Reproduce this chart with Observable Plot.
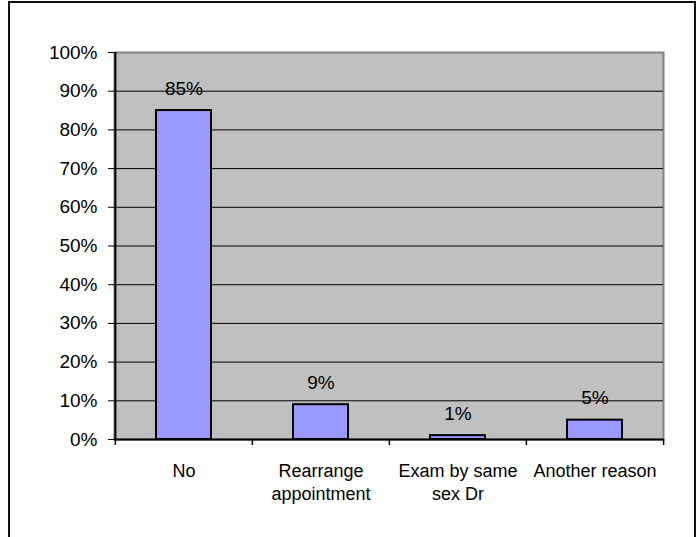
<!DOCTYPE html>
<html>
<head>
<meta charset="utf-8">
<script src="https://cdn.jsdelivr.net/npm/d3@7"></script>
<script src="https://cdn.jsdelivr.net/npm/@observablehq/plot@0.6"></script>
<style>
  html, body { margin: 0; padding: 0; background: #fff; }
  #wrap { position: relative; width: 699px; height: 537px; overflow: hidden; }
  #frame { position: absolute; left: 8px; top: 1px; width: 688px; height: 600px; border: 2px solid #111; box-sizing: border-box; pointer-events: none; }
</style>
</head>
<body>
<div id="wrap"><div id="frame"></div></div>
<script>
const categories = ["No", "Rearrange\nappointment", "Exam by same\nsex Dr", "Another reason"];
const values = [85, 9, 1, 5];
const yTicks = [0, 10, 20, 30, 40, 50, 60, 70, 80, 90, 100];

const data = categories.map((c, i) => ({category: c, value: values[i]}));

const W = 699, H = 537, mL = 114, mR = 36, mT = 52, mB = 98;
const step = (W - mL - mR) / categories.length;
const font = "Liberation Sans, Arial, sans-serif";

const chart = Plot.plot({
  width: W,
  height: H,
  marginLeft: mL,
  marginRight: mR,
  marginTop: mT,
  marginBottom: mB,
  style: {fontFamily: font, fontSize: "18px", color: "#000", background: "transparent"},
  x: {domain: categories, paddingInner: 0.6, paddingOuter: 0.3, axis: null},
  y: {domain: [0, 100], axis: null},
  marks: [
    Plot.frame({fill: "#C0C0C0", stroke: "#808080", strokeWidth: 2}),
    Plot.ruleY(yTicks.filter(t => t > 0 && t < 100), {stroke: "#000", strokeWidth: 1}),
    Plot.axisY({ticks: yTicks, tickFormat: d => d + "%", tickSize: 6, tickPadding: 11, fontSize: 19, letterSpacing: "0.6px", label: null, stroke: "#000"}),
    Plot.barY(data, {x: "category", y: "value", fill: "#9999FF", stroke: "#000", strokeWidth: 2}),
    Plot.ruleY([0], {stroke: "#000", strokeWidth: 2}),
    Plot.ruleX([categories[0]], {y1: 0, y2: 100, dx: -step / 2, stroke: "#000", strokeWidth: 2}),
    Plot.ruleX(categories, {y1: 0, y2: 0, insetBottom: -6, dx: -step / 2, stroke: "#000", strokeWidth: 1.5}),
    Plot.ruleX([categories[categories.length - 1]], {y1: 0, y2: 0, insetBottom: -6, dx: step / 2, stroke: "#000", strokeWidth: 1.5}),
    Plot.text(data, {x: "category", y: "value", text: d => d.value + "%", dy: -22, fontSize: 19, letterSpacing: "0.6px", fill: "#000"}),
    Plot.text(data, {x: "category", text: "category", frameAnchor: "bottom", lineAnchor: "top", dy: 21, lineHeight: 23 / 18, fontSize: 18, fill: "#000"})
  ]
});
document.getElementById("wrap").prepend(chart);
</script>
</body>
</html>
